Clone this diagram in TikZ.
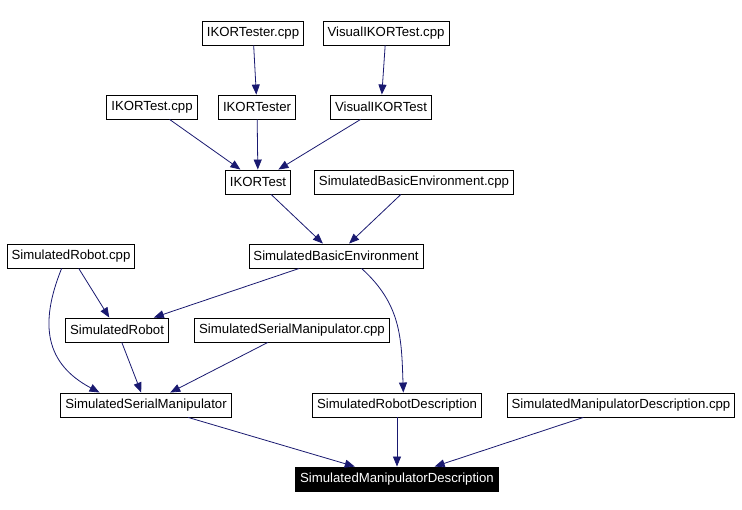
\documentclass[tikz,border=0pt]{standalone}
\usepackage{fontspec}
\setmainfont{Liberation Sans}
\definecolor{edgeblue}{HTML}{191970}
\usetikzlibrary{arrows.meta, positioning}
\tikzset{
  cls/.style={
    draw=black, fill=white, line width=0.9pt,
    minimum height=24pt, inner xsep=4.5pt, inner ysep=0pt,
    font=\fontsize{13.2}{15}\selectfont, text=black
  },
  root/.style={cls, fill=black, text=white},
  dep/.style={-{Triangle[length=10pt,width=8pt]}, line width=0.8pt, color=edgeblue},
}
\begin{document}
\begin{tikzpicture}[x=1pt, y=-1pt]
  \useasboundingbox (0,0) rectangle (742,510);

  % Sources
  \node[cls] (testercpp) at (253,33) {IKORTester.cpp};
  \node[cls] (visualcpp) at (386,33) {VisualIKORTest.cpp};
  \node[cls] (testcpp) at (152,107) {IKORTest.cpp};
  \node[cls] (tester) at (257,107) {IKORTester};
  \node[cls] (visual) at (381,107) {VisualIKORTest};
  \node[cls] (test) at (258,182) {IKORTest};
  \node[cls] (envcpp) at (414,182) {SimulatedBasicEnvironment.cpp};

  % Simulated classes
  \node[cls] (robotcpp) at (71,256) {SimulatedRobot.cpp};
  \node[cls] (env) at (336,256) {SimulatedBasicEnvironment};
  \node[cls] (robot) at (117,330) {SimulatedRobot};
  \node[cls] (serialcpp) at (292,330) {SimulatedSerialManipulator.cpp};
  \node[cls] (serial) at (146,405) {SimulatedSerialManipulator};
  \node[cls] (robotdesc) at (397,405) {SimulatedRobotDescription};
  \node[cls] (maniodesccpp) at (621,405) {SimulatedManipulatorDescription.cpp};

  % Root
  \node[root] (maniodesc) at (397,479) {SimulatedManipulatorDescription};

  \draw[dep] (testercpp) -- (tester);
  \draw[dep] (visualcpp) -- (visual);
  \draw[dep] (testcpp) -- (test);
  \draw[dep] (tester) -- (test);
  \draw[dep] (visual) -- (test);
  \draw[dep] (test) -- (env);
  \draw[dep] (envcpp) -- (env);
  \draw[dep] (env) -- (robot);
  \draw[dep] (env.-26.6) to[out=-42, in=92, looseness=1.05] (robotdesc.63);
  \draw[dep] (robotcpp) -- (robot);
  \draw[dep] (robotcpp.233) to[out=-112, in=152, looseness=1.2] (serial.165);
  \draw[dep] (robot) -- (serial);
  \draw[dep] (serialcpp) -- (serial);
  \draw[dep] (serial) -- (maniodesc);
  \draw[dep] (robotdesc) -- (maniodesc);
  \draw[dep] (maniodesccpp) -- (maniodesc);
\end{tikzpicture}
\end{document}
